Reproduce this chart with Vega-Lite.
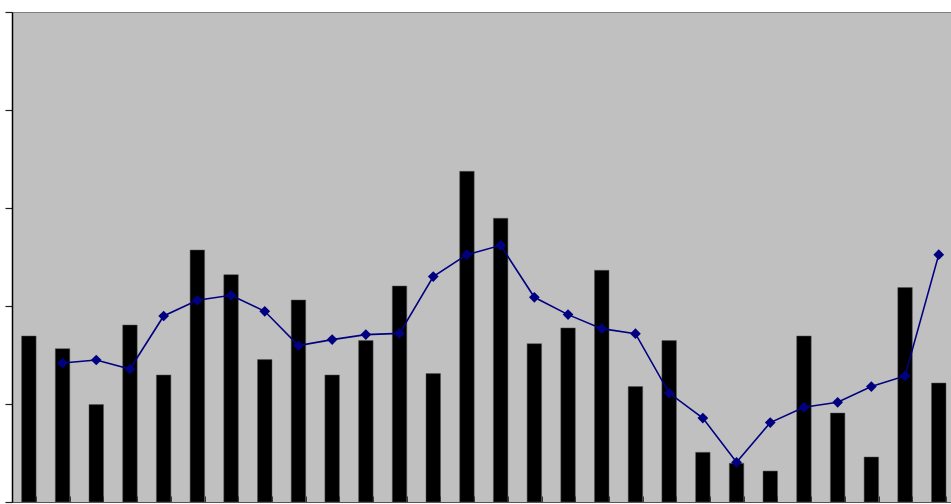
{
  "$schema": "https://vega.github.io/schema/vega-lite/v6.json",
  "width": 939,
  "height": 490,
  "autosize": {"type": "none"},
  "padding": {"left": 12, "top": 12, "right": 0, "bottom": 2},
  "background": "white",
  "config": {
    "view": {"fill": "#C0C0C0", "stroke": "#808080", "strokeWidth": 1}
  },
  "data": {
    "values": [
      {"cat": 1, "bar": 1.694, "line": null},
      {"cat": 2, "bar": 1.565, "line": 1.418},
      {"cat": 3, "bar": 0.994, "line": 1.449},
      {"cat": 4, "bar": 1.806, "line": 1.357},
      {"cat": 5, "bar": 1.296, "line": 1.898},
      {"cat": 6, "bar": 2.571, "line": 2.058},
      {"cat": 7, "bar": 2.32, "line": 2.109},
      {"cat": 8, "bar": 1.453, "line": 1.946},
      {"cat": 9, "bar": 2.061, "line": 1.596},
      {"cat": 10, "bar": 1.296, "line": 1.657},
      {"cat": 11, "bar": 1.647, "line": 1.708},
      {"cat": 12, "bar": 2.204, "line": 1.721},
      {"cat": 13, "bar": 1.31, "line": 2.3},
      {"cat": 14, "bar": 3.374, "line": 2.524},
      {"cat": 15, "bar": 2.895, "line": 2.619},
      {"cat": 16, "bar": 1.616, "line": 2.089},
      {"cat": 17, "bar": 1.776, "line": 1.912},
      {"cat": 18, "bar": 2.364, "line": 1.769},
      {"cat": 19, "bar": 1.178, "line": 1.718},
      {"cat": 20, "bar": 1.647, "line": 1.112},
      {"cat": 21, "bar": 0.507, "line": 0.857},
      {"cat": 22, "bar": 0.395, "line": 0.405},
      {"cat": 23, "bar": 0.316, "line": 0.81},
      {"cat": 24, "bar": 1.694, "line": 0.966},
      {"cat": 25, "bar": 0.908, "line": 1.017},
      {"cat": 26, "bar": 0.459, "line": 1.178},
      {"cat": 27, "bar": 2.188, "line": 1.286},
      {"cat": 28, "bar": 1.214, "line": 2.524}
    ]
  },
  "encoding": {
    "x": {
      "field": "cat",
      "type": "ordinal",
      "scale": {"range": [0, 943.6], "paddingInner": 0.57, "paddingOuter": 0.285},
      "axis": {
        "title": null,
        "labels": false,
        "domainColor": "#555555",
        "domainWidth": 1,
        "tickColor": "#333333",
        "tickSize": -6,
        "tickBand": "extent",
        "grid": false
      }
    }
  },
  "layer": [
    {
      "mark": {"type": "bar", "color": "#000000", "stroke": "#555555", "strokeWidth": 0.5},
      "encoding": {
        "y": {
          "field": "bar",
          "type": "quantitative",
          "scale": {"domain": [0, 5], "nice": false, "zero": true},
          "axis": {
            "title": null,
            "labels": false,
            "values": [0, 1, 2, 3, 4, 5],
            "grid": false,
            "domainColor": "#000000",
            "domainWidth": 1.5,
            "tickColor": "#222222",
            "tickSize": 7,
            "tickWidth": 1.2
          }
        }
      }
    },
    {
      "transform": [{"filter": "datum.line != null"}],
      "mark": {
        "type": "line",
        "color": "#000080",
        "strokeWidth": 1.6,
        "point": {"shape": "diamond", "size": 115, "filled": true, "color": "#000080"}
      },
      "encoding": {
        "y": {"field": "line", "type": "quantitative"}
      }
    }
  ]
}
